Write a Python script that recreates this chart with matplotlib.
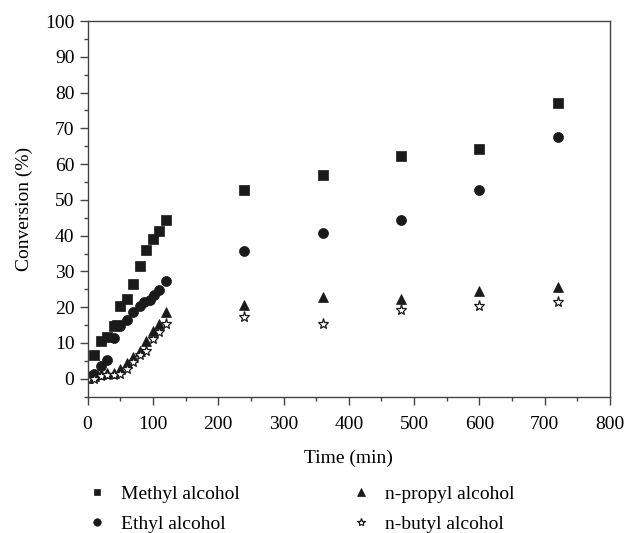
"""
plot.py — Conversion vs time for four alcohols
"""
import matplotlib
matplotlib.use("Agg")
import matplotlib.pyplot as plt
from matplotlib.ticker import MultipleLocator

# ── Data ──────────────────────────────────────────────────────────────
methyl_t = [10, 20, 30, 40, 45, 50, 60, 70, 80, 90, 100, 110, 120,
            240, 360, 480, 600, 720]
methyl_y = [6.5, 10.5, 11.8, 14.8, 15.0, 20.2, 22.3, 26.5, 31.6, 35.9, 39.0, 41.3, 44.3,
            52.7, 57.0, 62.3, 64.3, 77.0]

ethyl_t = [5, 10, 20, 30, 40, 50, 60, 70, 80, 87, 95, 102, 110, 120,
           240, 360, 480, 600, 720]
ethyl_y = [0.7, 1.4, 3.6, 5.3, 11.4, 14.6, 16.5, 18.6, 20.4, 21.4, 21.9, 23.3, 24.7, 27.3,
           35.6, 40.7, 44.4, 52.7, 67.6]

propyl_t = [0, 10, 20, 30, 40, 50, 60, 70, 80, 90, 100, 110, 120,
            240, 360, 480, 600, 720]
propyl_y = [0.3, 0.8, 1.2, 1.5, 1.6, 2.6, 4.5, 6.0, 7.8, 10.6, 13.3, 15.2, 18.6,
            20.5, 22.8, 22.4, 24.6, 25.6]

butyl_t = [0, 10, 20, 30, 40, 50, 60, 70, 80, 90, 100, 110, 120,
           240, 360, 480, 600, 720]
butyl_y = [0.0, 0.0, 0.8, 1.1, 1.1, 1.2, 2.6, 4.8, 6.7, 7.7, 11.0, 13.2, 15.2,
           17.3, 15.4, 19.1, 20.4, 21.4]

SERIES = [
    ("Methyl alcohol",   methyl_t, methyl_y, "s", 6.5, "#1a1a1a"),
    ("Ethyl alcohol",    ethyl_t,  ethyl_y,  "o", 7.2, "#1a1a1a"),
    ("n-propyl alcohol", propyl_t, propyl_y, "^", 7.8, "#1a1a1a"),
    ("n-butyl alcohol",  butyl_t,  butyl_y,  "*", 8.0, "white"),
]

FS = 14
plt.rcParams["font.family"] = ["Liberation Serif", "DejaVu Serif"]
plt.rcParams["font.size"] = FS

fig = plt.figure(figsize=(6.27, 5.33), dpi=100)
ax = fig.add_axes([0.1397, 0.2559, 0.973 - 0.1397, 0.9606 - 0.2559])

handles = []
for name, t, y, mk, ms, fc in SERIES:
    h, = ax.plot(t, y, linestyle="none", marker=mk, markersize=ms,
                 markerfacecolor=fc, markeredgecolor="#1a1a1a",
                 markeredgewidth=0.9 if mk == "*" else 0.5, label=name)
    handles.append(h)

ax.set_xlim(0, 800)
ax.set_ylim(-5, 100)
ax.xaxis.set_major_locator(MultipleLocator(100))
ax.xaxis.set_minor_locator(MultipleLocator(50))
ax.yaxis.set_major_locator(MultipleLocator(10))
ax.yaxis.set_minor_locator(MultipleLocator(5))
ax.set_yticks(range(0, 101, 10))

ax.tick_params(which="major", direction="out", length=6, width=1, color="#444444",
               top=False, right=False, labelsize=FS)
ax.tick_params(axis="x", which="major", pad=8)
ax.tick_params(which="minor", direction="out", length=3, width=1, color="#444444",
               top=False, right=False)
for sp in ax.spines.values():
    sp.set_color("#444444")
    sp.set_linewidth(1)

ax.set_xlabel("Time (min)", fontsize=FS, labelpad=12)
ax.set_ylabel("Conversion (%)", fontsize=FS, labelpad=9)

# ── Legend (two columns below the axes) ───────────────────────────────
leg_kw = dict(loc="upper left", frameon=False, fontsize=FS, markerscale=0.75,
              handlelength=1.2, handletextpad=0.65, labelspacing=0.62, borderpad=0)
fig.legend(handles=handles[:2], bbox_to_anchor=(0.12, 0.107), **leg_kw)
fig.legend(handles=handles[2:], bbox_to_anchor=(0.541, 0.107), **leg_kw)

fig.savefig("out.png", dpi=100)
plt.close(fig)
